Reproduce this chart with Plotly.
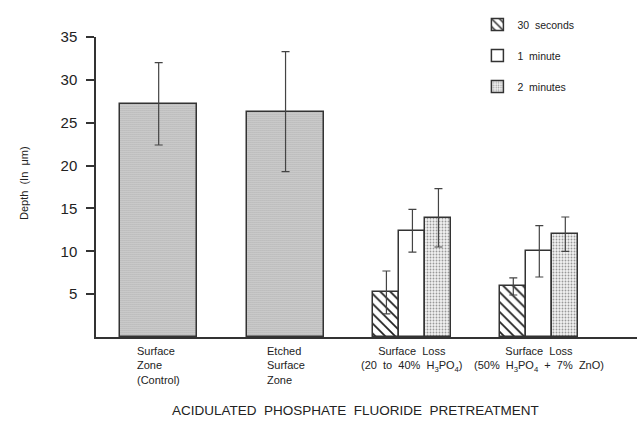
import plotly.graph_objects as go

# ---- data ----
control_labels = ["Surface<br>Zone<br>(Control)", "Etched<br>Surface<br>Zone"]
control_values = [27.2, 26.3]
control_errors = [4.8, 7.0]

group_labels = ["Surface  Loss<br>(20  to  40%  H<sub>3</sub>PO<sub>4</sub>)",
                "Surface  Loss<br>(50%  H<sub>3</sub>PO<sub>4</sub>  +  7%  ZnO)"]
series_names = ["30  seconds", "1  minute", "2  minutes"]
series_values = [[5.2, 5.9], [12.4, 10.0], [13.9, 12.0]]
series_errors = [[2.5, 1.0], [2.5, 3.0], [3.4, 2.0]]

y_ticks = [5, 10, 15, 20, 25, 30, 35]
x_title = "ACIDULATED  PHOSPHATE  FLUORIDE  PRETREATMENT"
y_title = "Depth  (In  μm)"

FONT = "Liberation Sans"
nb = lambda s: s.replace("  ", "\u00a0\u00a0")

fig = go.Figure()

ctrl_x = list(range(len(control_values)))
group_x = [len(control_values) + i for i in range(len(group_labels))]

line_col = "#333333"
err = dict(type="data", thickness=1.2, width=4, color="#444444")

fig.add_trace(go.Bar(
    x=ctrl_x, y=control_values, width=0.61,
    error_y=dict(array=control_errors, **err),
    marker=dict(color="#d6d6d6",
                line=dict(color=line_col, width=1.5),
                pattern=dict(shape=".", fgcolor="#6e6e6e", bgcolor="#dedede",
                             size=2, solidity=0.3, fillmode="replace")),
    showlegend=False, hoverinfo="skip"))

patterns = [
    dict(shape="\\", fgcolor="#222222", bgcolor="white", size=7, solidity=0.25, fillmode="replace"),
    dict(shape="", fgcolor="white", bgcolor="white"),
    dict(shape=".", fgcolor="#999999", bgcolor="#f2f2f2", size=3, solidity=0.3, fillmode="replace"),
]
bw = 0.205
for i, name in enumerate(series_names):
    fig.add_trace(go.Bar(
        x=group_x, y=series_values[i], width=bw, offset=-1.5 * bw + i * bw,
        name=nb(name), legendgroup=f"g{i}", hoverinfo="skip",
        error_y=dict(array=series_errors[i], **err),
        marker=dict(color="white", line=dict(color=line_col, width=1.5),
                    pattern=patterns[i]),
    ))

# category labels below the axis
all_x = ctrl_x + group_x
all_labels = control_labels + group_labels
for xv, lab in zip(all_x, all_labels):
    fig.add_annotation(x=xv, xref="x", y=-0.02, yref="paper", yanchor="top",
                       text=nb(lab), showarrow=False, align="left" if xv < 2 else "center",
                       font=dict(family=FONT, size=11, color="#222"))

fig.add_annotation(x=0.48, xref="paper", y=-0.245, yref="paper", yanchor="middle",
                   text=nb(x_title), showarrow=False,
                   font=dict(family=FONT, size=13.5, color="#222"))
fig.add_annotation(x=-0.148, xref="paper", y=0.513, yref="paper", textangle=-90,
                   text=nb(y_title), showarrow=False,
                   font=dict(family=FONT, size=11, color="#222"))

fig.update_layout(
    width=637, height=426,
    margin=dict(l=96, r=0, t=37, b=89, autoexpand=False),
    plot_bgcolor="white", paper_bgcolor="white",
    barmode="overlay", bargap=0,
    font=dict(family=FONT, color="#222"),
    legend=dict(x=0.705, y=1.09, xanchor="left", yanchor="top",
                font=dict(family=FONT, size=10.5), tracegroupgap=12,
                bgcolor="rgba(0,0,0,0)"),
    xaxis=dict(range=[-0.494, 3.77], showline=True, linecolor="#333", linewidth=1.5,
               showticklabels=False, ticks="", showgrid=False, zeroline=False),
    yaxis=dict(range=[0, 35], tickvals=y_ticks, showline=True, linecolor="#333",
               linewidth=1.5, ticks="outside", ticklen=8, tickwidth=1.5, tickcolor="#333",
               showgrid=False, zeroline=False, ticklabelstandoff=6,
               tickfont=dict(family=FONT, size=15, color="#222")),
)

fig.write_html("out.html", config={"displayModeBar": False},
               post_script="document.body.style.margin='0';")
